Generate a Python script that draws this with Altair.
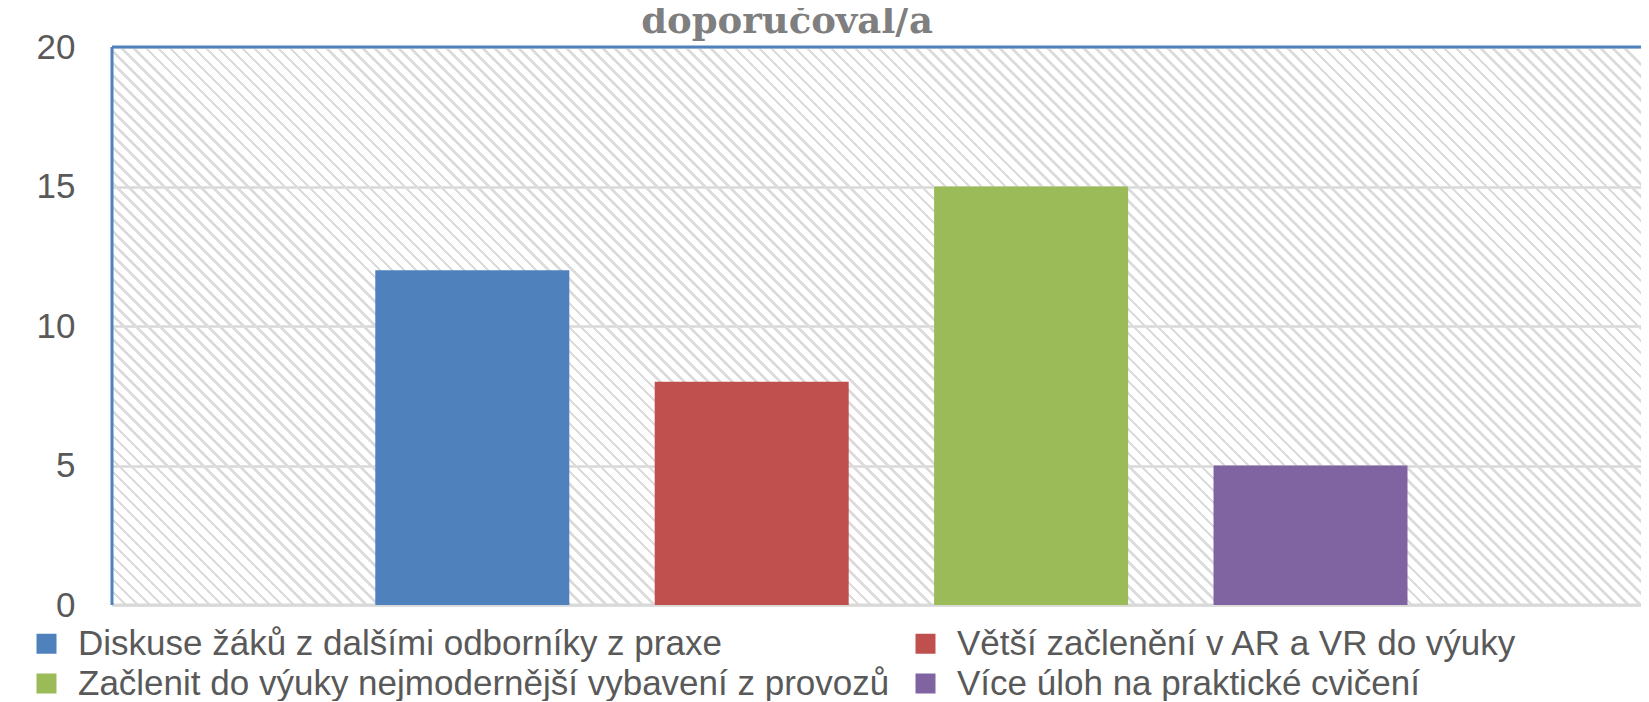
import altair as alt
import pandas as pd

# ---- data ----
categories = [
    "Diskuse žáků z dalšími odborníky z praxe",
    "Větší začlenění v AR a VR do výuky",
    "Začlenit do výuky nejmodernější vybavení z provozů",
    "Více úloh na praktické cvičení",
]
values = [12, 8, 15, 5]
colors = ["#4f81bd", "#c0504d", "#9bbb59", "#8064a2"]
# legend reading order (Vega fills legend columns first)
legend_order = [categories[0], categories[2], categories[1], categories[3]]
legend_colors = [colors[0], colors[2], colors[1], colors[3]]
y_ticks = [0, 5, 10, 15, 20]
title_text = "doporučoval/a"

# ---- layout / style ----
W, H = 1529, 558
BLUE = "#4f81bd"
GRID = "#d9d9d9"
TEXT = "#595959"

df = pd.DataFrame({"cat": categories, "val": values})

# diagonal hatch as a striped linear gradient (style only)
r = H / W
lam = (1 + r) / (1 + r * r)
L = (W + H) / 2 ** 0.5
period, stripe = 8.5, 2.6
stops = []
k = 0
while (k + 1) * period / L <= 1:
    o = k * period / L
    stops += [
        alt.GradientStop(color="#dcdcdc", offset=o),
        alt.GradientStop(color="#dcdcdc", offset=o + stripe / L),
        alt.GradientStop(color="rgba(255,255,255,0)", offset=o + stripe / L),
        alt.GradientStop(color="rgba(255,255,255,0)", offset=(k + 1) * period / L),
    ]
    k += 1
hatch_fill = alt.LinearGradient(
    gradient="linear", stops=stops, x1=0, y1=1, x2=lam, y2=1 - lam * r
)

one = alt.Data(values=[{"t": title_text}])

yscale = alt.Scale(domain=[0, 20], nice=False)
yaxis = alt.Axis(
    values=y_ticks, title=None, ticks=False, domain=False,
    labelFontSize=35, labelFont="Liberation Sans", labelColor=TEXT,
    labelPadding=37, gridColor=GRID, gridWidth=2.5,
)

hatch = alt.Chart(one).mark_rect(fill=hatch_fill, strokeWidth=0).encode(
    x=alt.value(0), x2=alt.value(W), y=alt.value(0), y2=alt.value(H)
)

bottom_line = alt.Chart(one).mark_rule(color=GRID, strokeWidth=3).encode(
    y=alt.value(H)
)

bars = alt.Chart(df).mark_bar(size=194).encode(
    x=alt.X(
        "cat:N", sort=categories,
        scale=alt.Scale(paddingInner=0.3057, paddingOuter=0.889, align=0.53),
        axis=None,
    ),
    y=alt.Y("val:Q", scale=yscale, axis=yaxis),
    color=alt.Color(
        "cat:N",
        scale=alt.Scale(domain=legend_order, range=legend_colors),
        legend=alt.Legend(
            orient="none", legendX=-83, legendY=579, columns=2,
            symbolType="square", symbolSize=400, symbolStrokeWidth=0,
            symbolOpacity=1, labelFontSize=35, labelFont="Liberation Sans",
            labelColor=TEXT, labelLimit=0, title=None, rowPadding=4,
            columnPadding=18, labelOffset=14, padding=0,
        ),
    ),
)

top_line = alt.Chart(one).mark_rule(color=BLUE, strokeWidth=3).encode(
    y=alt.value(0)
)
left_line = alt.Chart(one).mark_rule(color=BLUE, strokeWidth=3).encode(
    x=alt.value(0)
)

title = alt.Chart(one).mark_text(
    font="DejaVu Serif", fontWeight="bold", fontSize=37, color="#7f7f7f",
    align="center", baseline="alphabetic",
).encode(x=alt.value(675), y=alt.value(-14), text="t:N")

chart = (
    alt.layer(hatch, bottom_line, bars, top_line, left_line, title)
    .properties(
        width=W, height=H,
        autosize=alt.AutoSizeParams(type="none"),
        padding={"left": 104, "top": 39, "right": 0, "bottom": 96},
    )
    .configure_view(stroke=None, fill="white")
    .configure(background="white")
)

chart.save("out.html", embed_options={"renderer": "svg", "actions": False})
